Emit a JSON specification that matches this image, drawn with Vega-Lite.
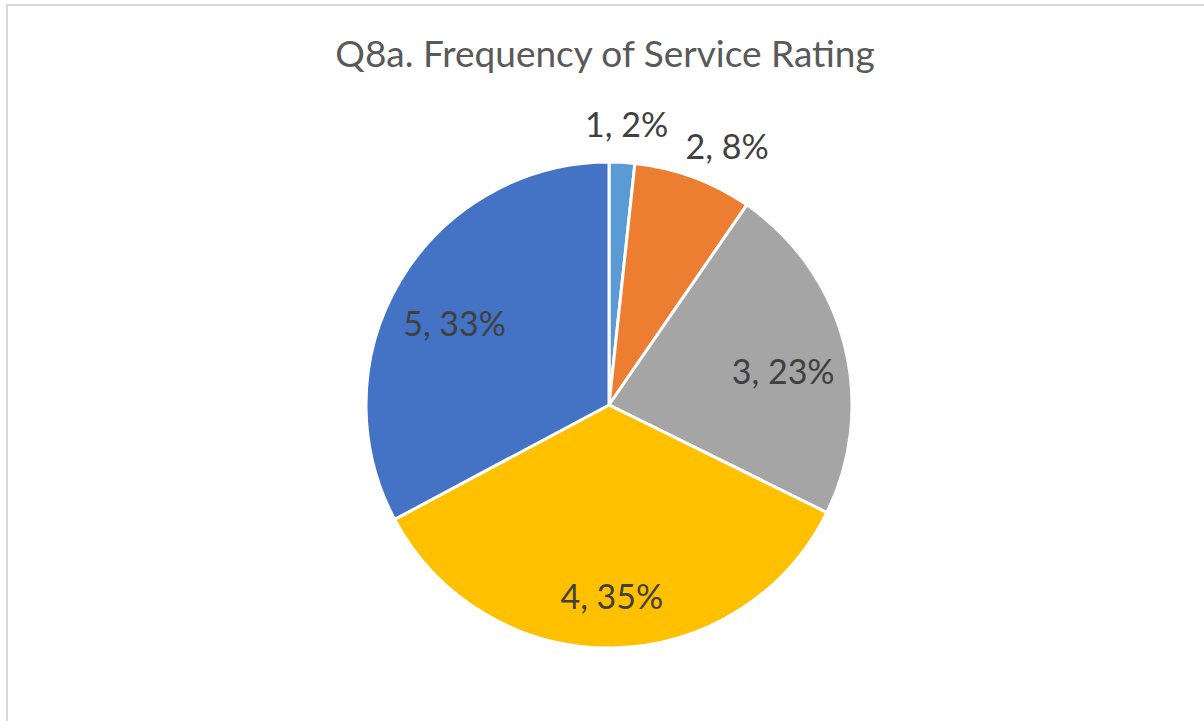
{
  "$schema": "https://vega.github.io/schema/vega-lite/v6.json",
  "autosize": "none",
  "width": 1204,
  "height": 800,
  "padding": {"left": 7, "top": 5, "right": 0, "bottom": 0},
  "background": "white",
  "view": {"stroke": "#d9d9d9", "strokeWidth": 2},
  "title": {
    "text": "Q8a. Frequency of Service Rating",
    "font": "Lato",
    "fontSize": 37,
    "fontWeight": "normal",
    "color": "#595959",
    "anchor": "middle",
    "baseline": "alphabetic",
    "offset": -63,
    "dx": -4,
    "dy": 36
  },
  "data": {
    "values": [
      {"rating": "1", "pct": 1.7, "label": "1, 2%"},
      {"rating": "2", "pct": 7.9, "label": "2, 8%"},
      {"rating": "3", "pct": 22.7, "label": "3, 23%"},
      {"rating": "4", "pct": 34.9, "label": "4, 35%"},
      {"rating": "5", "pct": 32.8, "label": "5, 33%"}
    ]
  },
  "encoding": {
    "theta": {"field": "pct", "type": "quantitative", "stack": true},
    "order": {"field": "rating", "type": "ordinal", "sort": "ascending"}
  },
  "layer": [
    {
      "mark": {"type": "arc", "outerRadius": 243, "stroke": "white", "strokeWidth": 3},
      "encoding": {
        "color": {
          "field": "rating",
          "type": "nominal",
          "scale": {"domain": ["1", "2", "3", "4", "5"], "range": ["#5B9BD5", "#ED7D31", "#A5A5A5", "#FFC000", "#4472C4"]},
          "legend": null
        }
      }
    },
    {
      "mark": {"type": "text", "radius": 292, "dy": 14, "dx": 2, "font": "Lato", "fontSize": 34, "color": "#404040", "align": "center", "baseline": "middle"},
      "encoding": {
        "text": {"condition": {"test": "datum.rating == '1'", "field": "label"}, "value": ""}
      }
    },
    {
      "mark": {"type": "text", "radius": 288, "dy": 14, "dx": 18, "font": "Lato", "fontSize": 34, "color": "#404040", "align": "center", "baseline": "middle"},
      "encoding": {
        "text": {"condition": {"test": "datum.rating == '2'", "field": "label"}, "value": ""}
      }
    },
    {
      "mark": {"type": "text", "radius": 180, "dy": 14, "font": "Lato", "fontSize": 34, "color": "#404040", "align": "center", "baseline": "middle"},
      "encoding": {
        "text": {"condition": {"test": "datum.rating > '2'", "field": "label"}, "value": ""}
      }
    }
  ]
}
